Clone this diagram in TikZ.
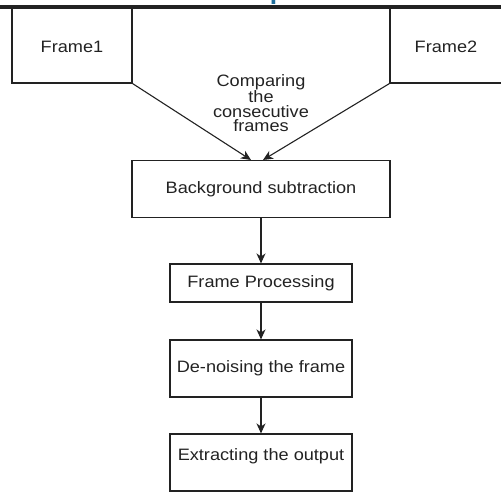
\documentclass[tikz,border=0pt]{standalone}
\usepackage{fontspec}
\setmainfont[FakeStretch=1.1]{Liberation Sans}
\usetikzlibrary{arrows.meta,calc}
\definecolor{ink}{HTML}{222222}
\definecolor{headblue}{HTML}{1F6E9C}
\tikzset{
  box/.style={draw=ink, line width=1.1pt, rectangle, inner sep=0pt, text=ink},
  lbl/.style={text=ink, inner sep=0pt, align=center, font=\fontsize{16.5}{14.5}\selectfont},
  conn/.style={draw=ink, line width=1.1pt, -{Stealth[length=10pt,width=9pt,inset=3pt]}},
}
\begin{document}
\begin{tikzpicture}[x=1pt,y=-1pt]
\useasboundingbox (0,0) rectangle (501,492);
\begin{scope}
\clip (0,0) rectangle (501,492);
\node[text=headblue, anchor=base, inner sep=0pt, font=\fontsize{24}{24}\bfseries\selectfont] (head) at (278,0) {p};
\draw[line width=4pt, ink] (0,7) -- (501,7);
% frame boxes
\node[box, minimum width=120pt, minimum height=76pt] (f1) at (72,45) {};
\node[box, minimum width=120pt, minimum height=76pt] (f2) at (450,45) {};
\end{scope}
\node[lbl] (t1) at (72,47) {Frame1};
\node[lbl] (t2) at (446,47) {Frame2};
\node[lbl] (cmp) at (261,103) {Comparing\\the\\consecutive\\frames};
\node[box, minimum width=258pt, minimum height=57pt] (bg) at (261,189) {};
\node[lbl] (tbg) at (bg.center) {Background subtraction};
\node[box, minimum width=182pt, minimum height=38pt] (fp) at (261,283) {};
\node[lbl] (tfp) at (fp.center) {Frame Processing};
\node[box, minimum width=182pt, minimum height=57pt] (dn) at (261,368.5) {};
\node[lbl] (tdn) at (dn.center) {De-noising the frame};
\node[box, minimum width=182pt, minimum height=57pt] (ex) at (261,462.5) {};
\node[lbl] (tex) at (261,456) {Extracting the output};
% connectors
\draw[conn] (f1.south east) -- ([xshift=-10pt]bg.north);
\draw[conn] (f2.south west) -- ([xshift=2pt]bg.north);
\draw[conn] (bg.south) -- (fp.north);
\draw[conn] (fp.south) -- (dn.north);
\draw[conn] (dn.south) -- (ex.north);
\end{tikzpicture}
\end{document}
